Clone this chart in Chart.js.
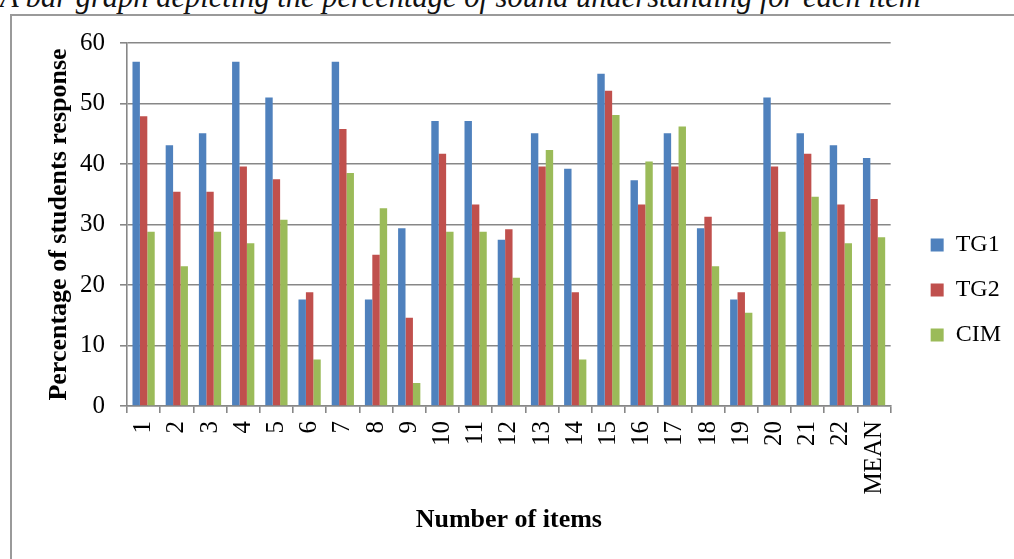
<!DOCTYPE html>
<html>
<head>
<meta charset="utf-8">
<script src="https://cdn.jsdelivr.net/npm/chart.js@4.4.1/dist/chart.umd.min.js"></script>
<style>
  html, body { margin: 0; padding: 0; background: #fff; overflow: hidden; }
  body { width: 1014px; height: 559px; position: relative; }
  #caption {
    position: absolute; left: 0; top: -18px; white-space: nowrap;
    font-family: 'Liberation Serif', serif; font-style: italic;
    font-size: 30.5px; line-height: 30px; color: #111;
  }
  #frame {
    position: absolute; left: 10px; top: 14px; width: 1100px; height: 700px;
    border: 2px solid #9a9a9a; box-sizing: border-box; background: #fff;
  }
  #wrap { position: absolute; left: 0; top: 0; width: 1014px; height: 559px; }
</style>
</head>
<body>
<div id="caption">A bar graph depicting the percentage of sound understanding for each item</div>
<div id="frame"></div>
<div id="wrap"><canvas id="chart"></canvas></div>
<script>
// Item labels along the x axis
const categories = ['1','2','3','4','5','6','7','8','9','10','11','12','13','14','15','16','17','18','19','20','21','22','MEAN'];

// Percentage of students per group
const tg1 = [56.9, 43.1, 45.1, 56.9, 51.0, 17.6, 56.9, 17.6, 29.4, 47.1, 47.1, 27.5, 45.1, 39.2, 54.9, 37.3, 45.1, 29.4, 17.6, 51.0, 45.1, 43.1, 41.0];
const tg2 = [47.9, 35.4, 35.4, 39.6, 37.5, 18.8, 45.8, 25.0, 14.6, 41.7, 33.3, 29.2, 39.6, 18.8, 52.1, 33.3, 39.6, 31.3, 18.8, 39.6, 41.7, 33.3, 34.2];
const cim = [28.8, 23.1, 28.8, 26.9, 30.8, 7.7, 38.5, 32.7, 3.8, 28.8, 28.8, 21.2, 42.3, 7.7, 48.1, 40.4, 46.2, 23.1, 15.4, 28.8, 34.6, 26.9, 27.9];

// Y axis ticks
const yTicks = [0, 10, 20, 30, 40, 50, 60];

const SERIF = "'Liberation Serif', 'Times New Roman', serif";
const GRID = '#878787';

// Nudges the legend block to the right of its default slot
const legendShift = {
  id: 'legendShift',
  afterLayout(chart) {
    const lg = chart.legend;
    if (!lg) return;
    const dx = 19;
    lg.left += dx;
    lg.right += dx;
  }
};

new Chart(document.getElementById('chart'), {
  type: 'bar',
  data: {
    labels: categories,
    datasets: [
      { label: 'TG1', data: tg1, backgroundColor: '#4F81BD' },
      { label: 'TG2', data: tg2, backgroundColor: '#C0504D' },
      { label: 'CIM', data: cim, backgroundColor: '#9BBB59' }
    ]
  },
  options: {
    responsive: true,
    maintainAspectRatio: false,
    animation: false,
    devicePixelRatio: 1,
    layout: { padding: { top: 43, left: 0, right: 22, bottom: 22 } },
    datasets: {
      bar: { categoryPercentage: 0.67, barPercentage: 1.0, borderWidth: 0 }
    },
    plugins: {
      title: { display: false },
      tooltip: { enabled: false },
      legend: {
        position: 'right',
        align: 'center',
        labels: {
          font: { family: SERIF, size: 24 },
          color: '#000',
          boxWidth: 13,
          boxHeight: 13,
          padding: 21
        }
      }
    },
    scales: {
      x: {
        grid: {
          display: true,
          drawOnChartArea: false,
          drawTicks: true,
          tickLength: 7,
          color: GRID,
          lineWidth: 1.6,
          offset: true
        },
        border: { display: true, color: GRID, width: 1.6 },
        ticks: {
          autoSkip: false,
          maxRotation: 90,
          minRotation: 90,
          padding: 8,
          color: '#000',
          font: { family: SERIF, size: 25 }
        },
        title: {
          display: true,
          text: 'Number of items',
          color: '#000',
          font: { family: SERIF, size: 26, weight: 'bold' },
          padding: { top: 0, bottom: 1 }
        },
        afterFit(scale) { scale.height = 131; }
      },
      y: {
        min: 0,
        max: 60,
        afterBuildTicks(scale) { scale.ticks = yTicks.map(v => ({ value: v })); },
        grid: {
          color: GRID,
          lineWidth: 1.6,
          drawTicks: true,
          tickLength: 7
        },
        border: { display: true, color: GRID, width: 1.6 },
        ticks: {
          padding: 15,
          color: '#000',
          font: { family: SERIF, size: 25 }
        },
        title: {
          display: true,
          text: 'Percentage of students response',
          color: '#000',
          font: { family: SERIF, size: 26, weight: 'bold' },
          padding: { top: 44, bottom: 0 }
        },
        afterFit(scale) { scale.width = 127; }
      }
    }
  },
  plugins: [legendShift]
});
</script>
</body>
</html>
